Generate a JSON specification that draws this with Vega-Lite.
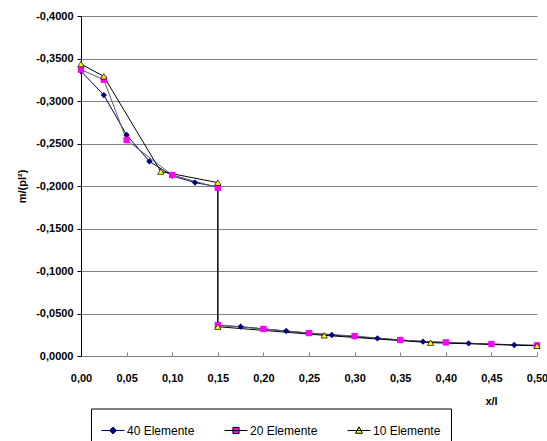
{
  "$schema": "https://vega.github.io/schema/vega-lite/v6.json",
  "width": 456,
  "height": 340,
  "autosize": {"type": "none"},
  "padding": {"left": 81, "top": 16, "right": 10, "bottom": 85},
  "config": {
    "locale": {"number": {"decimal": ",", "thousands": ".", "grouping": [3], "currency": ["", "€"], "minus": "-"}},
    "view": {"stroke": null},
    "font": "Liberation Sans"
  },
  "data": {"values": [
    {"s": "40 Elemente", "i": 0, "x": 0, "y": -0.335},
    {"s": "40 Elemente", "i": 1, "x": 0.025, "y": -0.307},
    {"s": "40 Elemente", "i": 2, "x": 0.05, "y": -0.26},
    {"s": "40 Elemente", "i": 3, "x": 0.075, "y": -0.229},
    {"s": "40 Elemente", "i": 4, "x": 0.1, "y": -0.212},
    {"s": "40 Elemente", "i": 5, "x": 0.125, "y": -0.204},
    {"s": "40 Elemente", "i": 6, "x": 0.15, "y": -0.199},
    {"s": "40 Elemente", "i": 7, "x": 0.15, "y": -0.036},
    {"s": "40 Elemente", "i": 8, "x": 0.175, "y": -0.0345},
    {"s": "40 Elemente", "i": 9, "x": 0.2, "y": -0.032},
    {"s": "40 Elemente", "i": 10, "x": 0.225, "y": -0.0294},
    {"s": "40 Elemente", "i": 11, "x": 0.25, "y": -0.027},
    {"s": "40 Elemente", "i": 12, "x": 0.275, "y": -0.0247},
    {"s": "40 Elemente", "i": 13, "x": 0.3, "y": -0.0228},
    {"s": "40 Elemente", "i": 14, "x": 0.325, "y": -0.0208},
    {"s": "40 Elemente", "i": 15, "x": 0.35, "y": -0.0188},
    {"s": "40 Elemente", "i": 16, "x": 0.375, "y": -0.0169},
    {"s": "40 Elemente", "i": 17, "x": 0.4, "y": -0.0158},
    {"s": "40 Elemente", "i": 18, "x": 0.425, "y": -0.0149},
    {"s": "40 Elemente", "i": 19, "x": 0.45, "y": -0.014},
    {"s": "40 Elemente", "i": 20, "x": 0.475, "y": -0.0129},
    {"s": "40 Elemente", "i": 21, "x": 0.5, "y": -0.0125},
    {"s": "20 Elemente", "i": 0, "x": 0, "y": -0.337},
    {"s": "20 Elemente", "i": 1, "x": 0.025, "y": -0.325},
    {"s": "20 Elemente", "i": 2, "x": 0.05, "y": -0.254},
    {"s": "20 Elemente", "i": 3, "x": 0.1, "y": -0.213},
    {"s": "20 Elemente", "i": 4, "x": 0.15, "y": -0.198},
    {"s": "20 Elemente", "i": 5, "x": 0.15, "y": -0.0365},
    {"s": "20 Elemente", "i": 6, "x": 0.2, "y": -0.0318},
    {"s": "20 Elemente", "i": 7, "x": 0.25, "y": -0.027},
    {"s": "20 Elemente", "i": 8, "x": 0.3, "y": -0.0235},
    {"s": "20 Elemente", "i": 9, "x": 0.35, "y": -0.0188},
    {"s": "20 Elemente", "i": 10, "x": 0.4, "y": -0.016},
    {"s": "20 Elemente", "i": 11, "x": 0.45, "y": -0.0141},
    {"s": "20 Elemente", "i": 12, "x": 0.5, "y": -0.0125},
    {"s": "10 Elemente", "i": 0, "x": 0, "y": -0.3435},
    {"s": "10 Elemente", "i": 1, "x": 0.025, "y": -0.329},
    {"s": "10 Elemente", "i": 2, "x": 0.0875, "y": -0.217},
    {"s": "10 Elemente", "i": 3, "x": 0.15, "y": -0.204},
    {"s": "10 Elemente", "i": 4, "x": 0.15, "y": -0.0345},
    {"s": "10 Elemente", "i": 5, "x": 0.2667, "y": -0.0243},
    {"s": "10 Elemente", "i": 6, "x": 0.3833, "y": -0.0157},
    {"s": "10 Elemente", "i": 7, "x": 0.5, "y": -0.012}
  ]},
  "encoding": {
    "x": {"field": "x", "type": "quantitative", "scale": {"domain": [0, 0.5]},
      "axis": {"values": [0, 0.05, 0.1, 0.15, 0.2, 0.25, 0.3, 0.35, 0.4, 0.45, 0.5], "format": ".2f", "grid": false,
        "domainColor": "#808080", "tickColor": "#808080", "tickSize": -4, "labelPadding": 20,
        "labelFont": "Liberation Sans", "labelFontWeight": "bold", "labelFontSize": 11, "labelColor": "#000", "labelOverlap": false, "labelFlush": false,
        "title": "x/l", "titleFont": "Liberation Sans", "titleFontWeight": "bold", "titleFontSize": 11, "titleColor": "#000",
        "titleX": 410, "titleY": 45, "titleAlign": "center", "titleBaseline": "middle"}},
    "y": {"field": "y", "type": "quantitative", "scale": {"domain": [-0.4, 0], "reverse": true},
      "axis": {"values": [-0.4, -0.35, -0.3, -0.25, -0.2, -0.15, -0.1, -0.05, 0], "format": ".4f", "grid": true, "gridColor": "#808080",
        "domainColor": "#000", "tickColor": "#000", "tickSize": 4, "labelPadding": 4,
        "labelFont": "Liberation Sans", "labelFontWeight": "bold", "labelFontSize": 11, "labelColor": "#000", "labelOverlap": false,
        "title": "m/(pl²)", "titleFont": "Liberation Sans", "titleFontWeight": "bold", "titleFontSize": 11, "titleColor": "#000", "titlePadding": 8}}
  },
  "layer": [
    {
      "mark": {"type": "line", "strokeWidth": 1},
      "encoding": {
        "order": {"field": "i", "type": "quantitative"},
        "stroke": {"field": "s", "type": "nominal",
          "scale": {"domain": ["40 Elemente", "20 Elemente", "10 Elemente"], "range": ["#000080", "#606060", "#000000"]},
          "legend": null}
      }
    },
    {
      "mark": {"type": "point", "filled": true, "size": 40, "opacity": 1},
      "encoding": {
        "fill": {"field": "s", "type": "nominal",
          "scale": {"domain": ["40 Elemente", "20 Elemente", "10 Elemente"], "range": ["#000080", "#ff00ff", "#ffff00"]},
          "legend": null},
        "shape": {"field": "s", "type": "nominal",
          "scale": {"domain": ["40 Elemente", "20 Elemente", "10 Elemente"], "range": ["diamond", "square", "triangle-up"]},
          "legend": null}
      }
    },
    {
      "transform": [{"filter": "datum.s == '10 Elemente'"}],
      "mark": {"type": "point", "filled": false, "shape": "triangle-up", "size": 40, "stroke": "#000", "strokeWidth": 0.7, "opacity": 1},
      "encoding": {}
    },
    {
      "transform": [{"filter": "false"}],
      "mark": {"type": "point", "filled": true, "opacity": 1},
      "encoding": {
        "fill": {"field": "s", "type": "nominal",
          "scale": {"domain": ["40 Elemente", "20 Elemente", "10 Elemente"], "range": ["#000080", "#ff00ff", "#ffff00"]}},
        "stroke": {"field": "s", "type": "nominal",
          "scale": {"domain": ["40 Elemente", "20 Elemente", "10 Elemente"], "range": ["#000080", "#000000", "#000000"]}},
        "shape": {"field": "s", "type": "nominal",
          "scale": {"domain": ["40 Elemente", "20 Elemente", "10 Elemente"],
            "range": ["M-1,0H1M0,-0.3L0.3,0L0,0.3L-0.3,0Z", "M-1,0H1M-0.27,-0.27H0.27V0.27H-0.27Z", "M-1,0H1M0,-0.32L0.3,0.24H-0.3Z"]}}
      }
    }
  ],
  "resolve": {"scale": {"fill": "independent", "stroke": "independent", "shape": "independent"}},
  "config": {
    "locale": {"number": {"decimal": ",", "thousands": ".", "grouping": [3], "currency": ["", "€"], "minus": "-"}},
    "view": {"stroke": null},
    "font": "Liberation Sans",
    "legend": {"title": null, "orient": "none", "legendX": 10, "legendY": 392.5, "direction": "horizontal",
      "symbolSize": 529, "symbolStrokeWidth": 1,
      "labelFont": "Liberation Sans", "labelFontSize": 12, "labelColor": "#000", "labelOffset": 2,
      "columnPadding": 27, "padding": 10, "strokeColor": "#000"}
  }
}
